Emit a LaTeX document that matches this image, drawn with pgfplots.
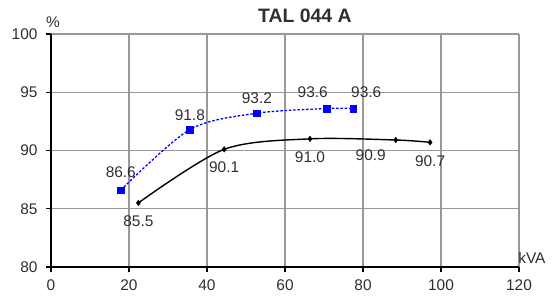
\documentclass[border=0pt]{standalone}
\usepackage{fontspec}
\setmainfont{Liberation Sans}
\usepackage{pgfplots}
\usepackage{pgfplotstable}
\pgfplotsset{compat=1.18}
\definecolor{txt}{HTML}{2E2E38}
\definecolor{gridc}{HTML}{999999}
\definecolor{bl}{HTML}{0000FF}
\pgfplotstableread{
x y dx dy
17.9 86.6 0 18
35.6 91.8 0 14
52.8 93.2 0 15
70.7 93.6 -14 16
77.5 93.6 13 16
}\bluedata
\pgfplotstableread{
x y dx dy
22.4 85.5 0 -18
44.4 90.1 0 -18
66.4 91.0 0 -18
88.4 90.9 -25 -15
97.2 90.7 0 -19
}\blackdata
\begin{document}
\begin{tikzpicture}
\begin{axis}[
 at={(51bp,29bp)}, anchor=south west,
 scale only axis, width=468bp, height=233bp,
 xmin=0,xmax=120,ymin=80,ymax=100,
 xtick={0,20,...,120}, ytick={80,85,...,100},
 axis x line*=bottom, axis y line*=left,
 axis line style={black, line width=1.7bp, -},
 grid=major, grid style={gridc, line width=1.2bp},
 tick align=outside, major tick length=5bp, tick style={black, line width=1.1bp},
 ticklabel style={font=\fontsize{15.5}{17}\selectfont, text=txt},
 xticklabel style={yshift=-4bp},
 yticklabel style={xshift=-5bp},
 /pgf/number format/assume math mode=true,
 clip=false,
]
\addplot[bl, line width=1.3bp, dash pattern=on 2.5bp off 1.8bp, smooth, tension=0.5]
  table[x=x,y=y] {\bluedata};
\addplot[black, line width=1.4bp, smooth, tension=0.5]
  table[x=x,y=y] {\blackdata};
\addplot[bl, only marks, mark=square*, mark size=3.3bp,
  nodes near coords={\pgfmathprintnumber[fixed,fixed zerofill,precision=1]{\pgfplotspointmeta}},
  nodes near coords style={font=\fontsize{15.5}{17}\selectfont, text=txt, anchor=center, xshift=\dx bp, yshift=\dy bp},
  visualization depends on={\thisrow{dx}\as\dx},
  visualization depends on={\thisrow{dy}\as\dy}]
  table[x=x,y=y,meta=y] {\bluedata};
\addplot[black, only marks, mark=diamond*, mark size=2.8bp,
  nodes near coords={\pgfmathprintnumber[fixed,fixed zerofill,precision=1]{\pgfplotspointmeta}},
  nodes near coords style={font=\fontsize{15.5}{17}\selectfont, text=txt, anchor=center, xshift=\dx bp, yshift=\dy bp},
  visualization depends on={\thisrow{dx}\as\dx},
  visualization depends on={\thisrow{dy}\as\dy}]
  table[x=x,y=y,meta=y] {\blackdata};
\node[font=\bfseries\fontsize{19.5}{21}\selectfont, text=txt] at (axis cs:65.1,101.6) {TAL 044 A};
\node[font=\fontsize{15.5}{17}\selectfont, text=txt] at (axis cs:0.5,101.0) {\%};
\node[font=\fontsize{15.5}{17}\selectfont, text=txt] at (axis cs:123.3,80.77) {kVA};
\end{axis}
\pgfresetboundingbox
\useasboundingbox (0,0) rectangle (559bp,296bp);
\end{tikzpicture}
\end{document}
